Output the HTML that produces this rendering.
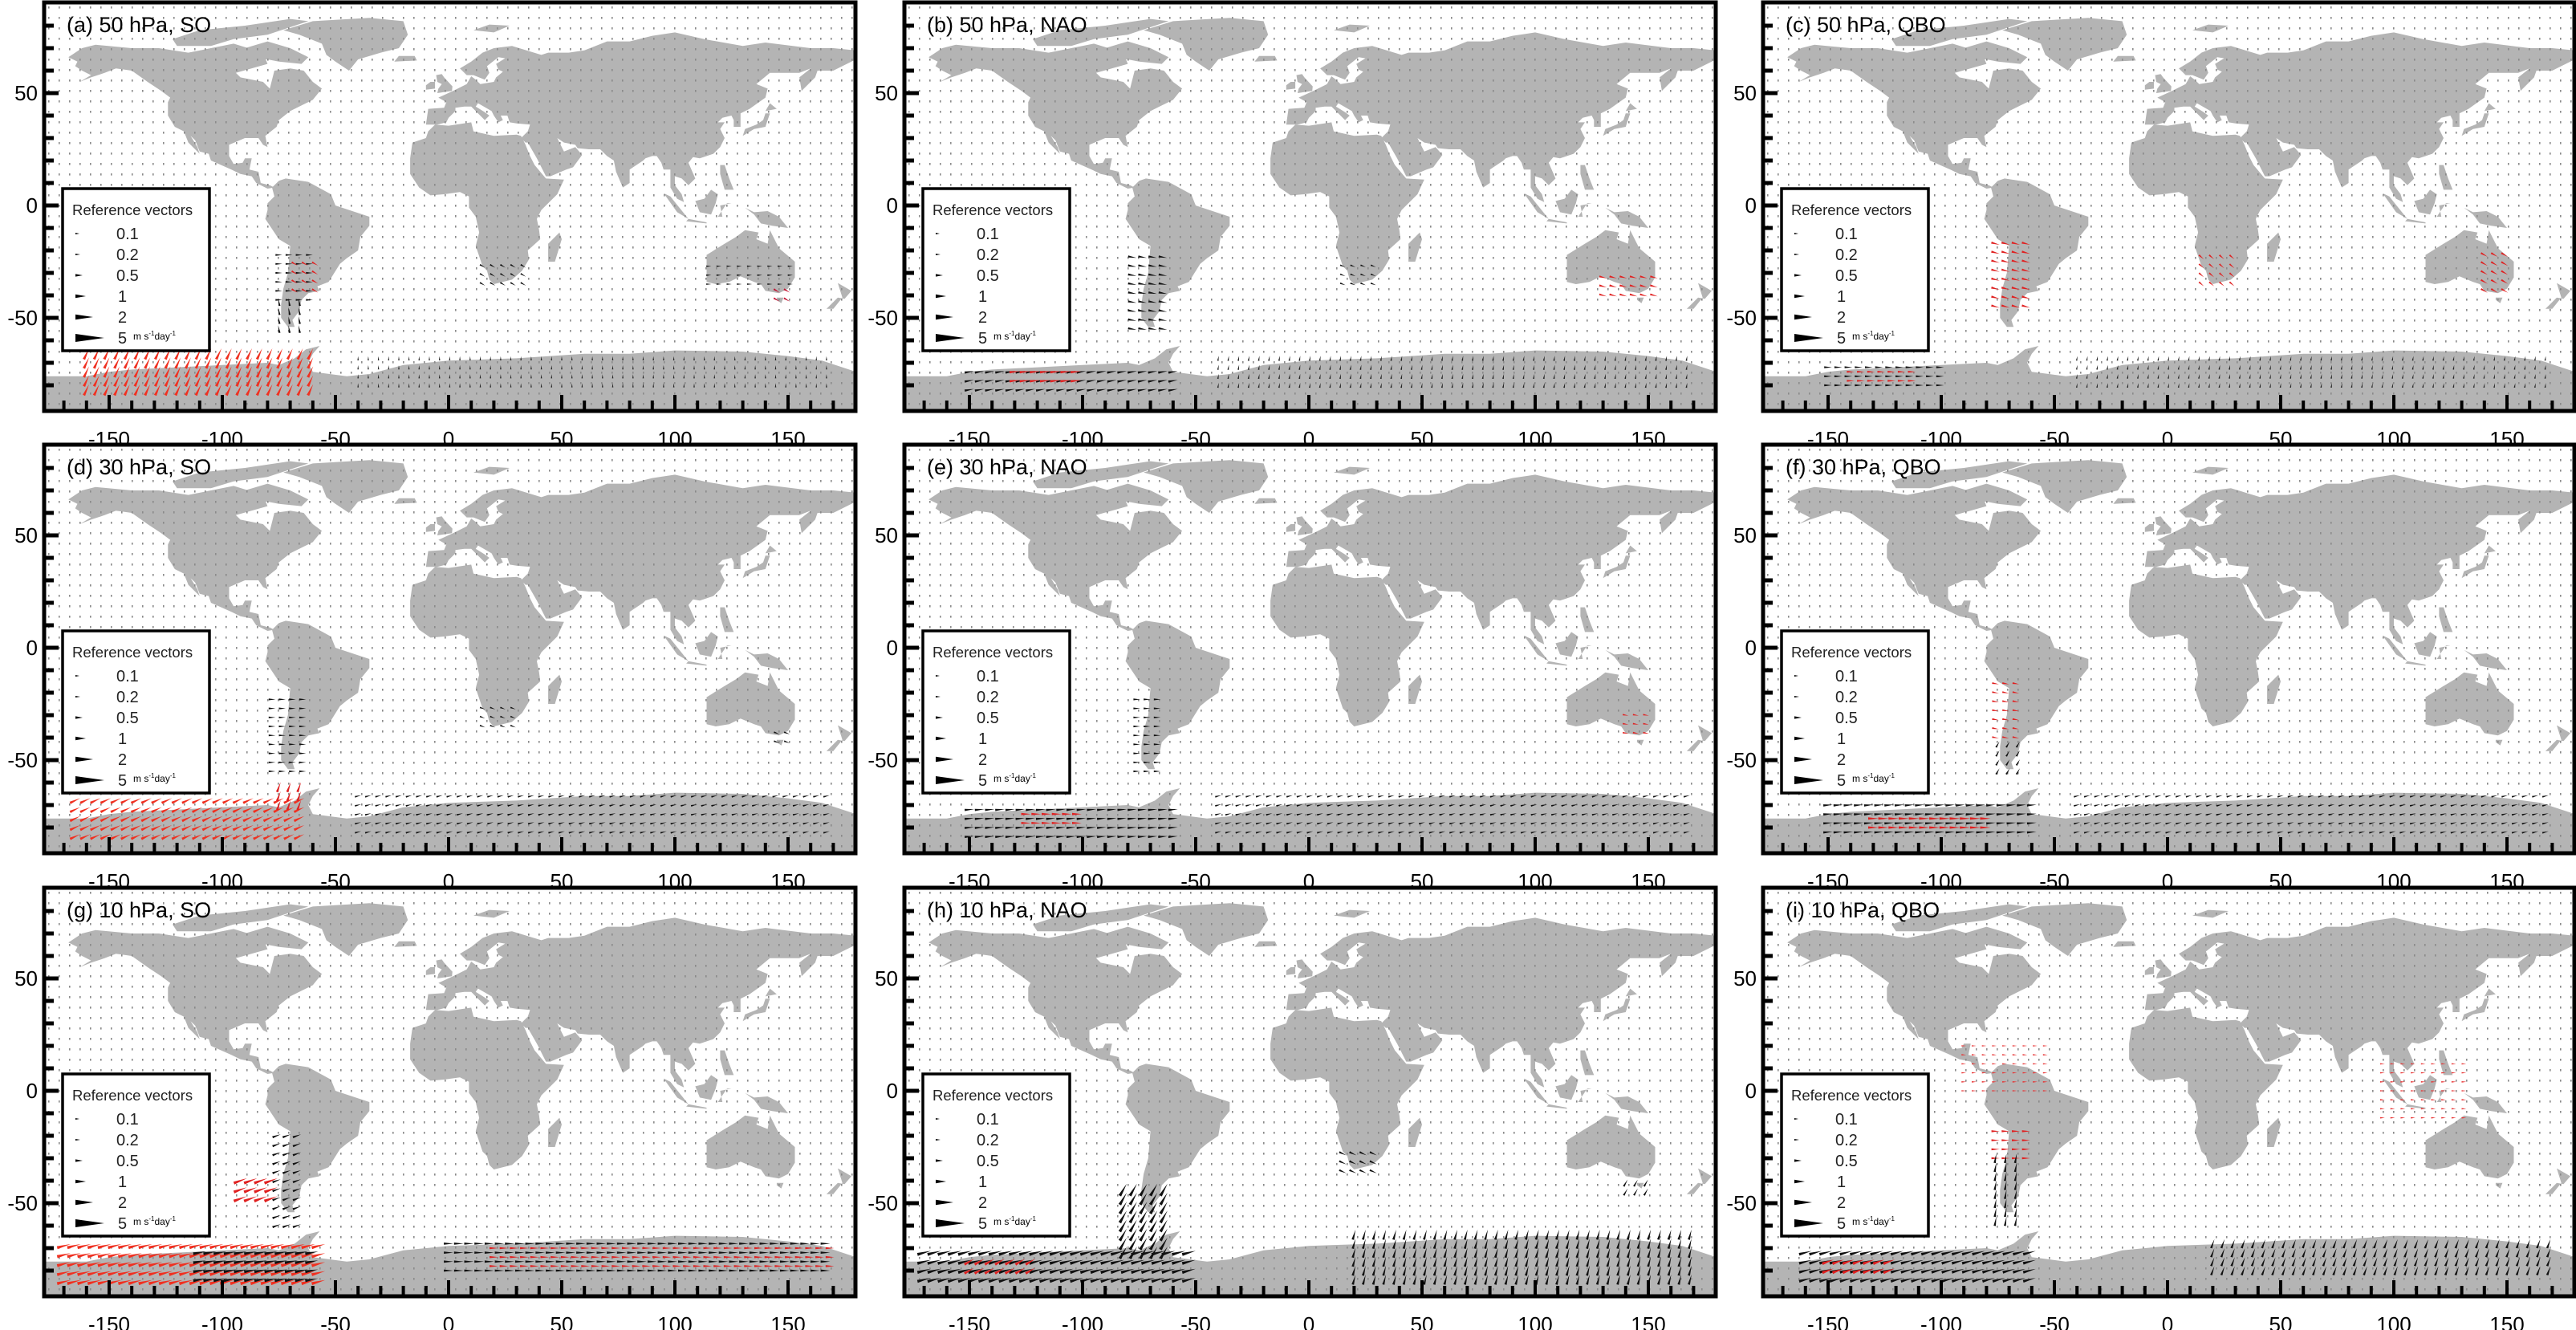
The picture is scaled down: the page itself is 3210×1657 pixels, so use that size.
<!DOCTYPE html>
<html><head><meta charset="utf-8"><style>
html,body{margin:0;padding:0;background:#fff;}
svg{display:block;font-family:"Liberation Sans",Arial,sans-serif;}
</style></head><body>
<svg id="fig" width="3210" height="1657" viewBox="0 0 3210 1657" xmlns="http://www.w3.org/2000/svg">
<defs>
<pattern id="dots" x="0" y="0" width="13" height="13" patternUnits="userSpaceOnUse">
<rect x="5" y="5" width="1.6" height="2.6" fill="#8a8a8a"/>
</pattern>
<clipPath id="pclip"><rect x="0" y="0" width="1011" height="509"/></clipPath>
</defs>
</svg>
<script>
// ---- data ----
const panelTitles = ["(a) 50 hPa, SO","(b) 50 hPa, NAO","(c) 50 hPa, QBO","(d) 30 hPa, SO","(e) 30 hPa, NAO","(f) 30 hPa, QBO","(g) 10 hPa, SO","(h) 10 hPa, NAO","(i) 10 hPa, QBO"];
const xTickLabels = [-150,-100,-50,0,50,100,150];
const yTickLabels = [-50,0,50];
const refValues = [0.1,0.2,0.5,1,2,5];
const refLabels = ["0.1","0.2","0.5","1","2","5"];
// vector clusters: [lon0, lon1, lat0, lat1, angleDeg, magnitude, color]
const vecA = [[-160,-60,-82,-66,65,2.2,"#f03020"],[-75,-60,-42,-20,0,1.0,"#111"],[-75,-62,-55,-42,100,1.2,"#111"],[-68,-55,-38,-25,-30,1.0,"#e02020"],[15,35,-35,-25,-30,0.8,"#111"],[115,153,-35,-25,0,0.6,"#111"],[145,152,-42,-36,-30,1,"#c01030"],[-40,170,-80,-66,90,0.4,"#222"]];
const vecB = [[-78,-62,-55,-20,-10,1.4,"#111"],[-150,-60,-82,-72,10,1.6,"#111"],[-130,-100,-78,-73,5,1.8,"#e02020"],[130,155,-40,-30,-15,1.2,"#e02020"],[-40,170,-80,-66,80,0.6,"#222"],[15,32,-35,-25,-20,0.7,"#111"]];
const vecC = [[-76,-62,-45,-15,-15,1.4,"#e02020"],[-150,-100,-80,-72,0,1.2,"#111"],[-140,-110,-78,-74,0,1.2,"#e02020"],[15,30,-35,-22,-40,0.9,"#e02020"],[140,153,-38,-22,-30,1.2,"#e02020"],[-40,170,-80,-66,80,0.5,"#222"]];
const vecD = [[-165,-62,-84,-68,25,2.0,"#f03020"],[-78,-62,-55,-20,0,1.0,"#111"],[-75,-62,-70,-60,70,1.8,"#e02020"],[15,32,-35,-25,-20,0.7,"#111"],[-40,170,-82,-66,15,0.9,"#111"],[145,152,-42,-35,-20,0.8,"#111"]];
const vecE = [[-150,-60,-84,-70,5,1.6,"#111"],[-125,-100,-78,-73,0,1.6,"#e02020"],[-76,-64,-55,-22,0,1.0,"#111"],[-40,170,-82,-66,15,0.9,"#111"],[140,153,-38,-30,-10,0.8,"#e02020"]];
const vecF = [[-150,-60,-82,-70,5,1.6,"#111"],[-130,-80,-80,-76,0,1.8,"#e02020"],[-76,-64,-40,-15,-10,1.0,"#e02020"],[-75,-65,-55,-40,60,1.0,"#111"],[-40,170,-82,-66,15,0.9,"#111"]];
const vecG = [[-170,-55,-85,-66,15,2.6,"#f03020"],[-110,-60,-84,-70,10,2.4,"#111"],[-76,-64,-60,-20,20,1.4,"#111"],[-92,-78,-48,-40,20,2.6,"#e02020"],[0,170,-80,-66,0,1.6,"#111"],[20,170,-78,-70,0,1.4,"#e02020"]];
const vecH = [[-82,-62,-72,-42,60,2.6,"#111"],[-170,-50,-84,-70,15,2.6,"#111"],[-150,-120,-80,-74,30,2.0,"#e02020"],[20,170,-84,-64,75,1.8,"#111"],[15,32,-36,-28,-25,1.2,"#111"],[140,152,-45,-38,60,1.2,"#111"]];
const vecI = [[-160,-60,-84,-70,15,2.4,"#111"],[-150,-120,-80,-74,20,2.2,"#e02020"],[-76,-62,-30,-15,0,1.3,"#e02020"],[-76,-64,-58,-30,80,1.6,"#111"],[-90,-50,0,20,0,0.5,"#e83030"],[95,135,-12,15,0,0.5,"#e83030"],[20,170,-80,-66,70,1.6,"#111"]];
const panelVectors = [vecA,vecB,vecC,vecD,vecE,vecF,vecG,vecH,vecI];
// land polygons (lon, lat)
const land = [
[[-168,66],[-162,70],[-156,71.5],[-140,70],[-128,70],[-115,68],[-95,72],[-82,68],[-80,63],[-94,59],[-92,57],[-82,55],[-79,52],[-77,60],[-70,61],[-64,60],[-60,55],[-56,52],[-60,47],[-66,44],[-70,42],[-75,38],[-76,35],[-81,31],[-80,26],[-82,27],[-84,30],[-90,30],[-97,27],[-97,22],[-95,18.5],[-91,19],[-90,21],[-87,21],[-88,16],[-84,15],[-83,10],[-79,9],[-77,8],[-80,7.5],[-85,10],[-87,13],[-92,14],[-96,16],[-105,20],[-106,23],[-110,24],[-112,29],[-114,31],[-111,26],[-110,23],[-115,28],[-117,33],[-121,35],[-124,40],[-124,46],[-123,48],[-127,51],[-133,55],[-140,60],[-147,61],[-152,59],[-158,57],[-163,55],[-158,58],[-162,60],[-165,62],[-164,64]],
[[-73,78],[-60,82],[-35,83.5],[-20,82],[-18,76],[-22,70],[-30,68],[-40,65],[-44,60],[-50,64],[-54,67],[-56,72],[-66,76]],
[[-122,74],[-110,78],[-90,80],[-70,83],[-62,82],[-80,76],[-95,74],[-105,71],[-120,71]],
[[-90,70],[-80,73],[-70,70],[-62,66],[-65,63],[-75,64],[-85,66]],
[[-78,8],[-75,11],[-72,12],[-62,10.5],[-52,5],[-50,0],[-44,-2],[-35,-5],[-35,-9],[-39,-14],[-40,-20],[-45,-23.5],[-48,-26],[-53,-34],[-58,-36],[-57,-38],[-62,-39],[-65,-42],[-66,-47],[-69,-51],[-68,-54],[-71,-54],[-74,-50],[-74,-44],[-73,-37],[-71,-30],[-70,-18],[-75,-15],[-77,-12],[-81,-6],[-80,-2],[-80,1],[-77,4]],
[[-17,21],[-16,28],[-10,30],[-9,33],[-6,36],[0,35.5],[10,37],[11,33],[20,31],[30,31.5],[32,31],[34,27],[36,22],[38,18],[43,12],[51,11.5],[48,5],[41,-2],[39,-6],[40,-11],[40.5,-15],[35,-20],[35.5,-24],[32.5,-29],[28,-33],[20,-35],[18,-33],[17,-29],[15,-27],[12,-18],[13.5,-12],[12,-5],[9,-1],[9,4],[5,6],[-2,5],[-8,4.5],[-13,8],[-17,14]],
[[44,-25],[47,-25],[50,-15],[49,-12],[44,-17]],
[[-10,36],[-9,43],[-2,43.5],[-1,46],[-4.5,48],[2,51],[8,54],[10,57.5],[12,56],[14,54],[20,55],[21,57],[24,59.5],[22,60.5],[21,63],[25,65.5],[22,66],[17,62],[18,59],[16,56],[11,58],[8,58],[5,61],[10,64],[15,68],[20,70],[28,71],[41,67],[44,68],[53,68],[60,69],[70,73],[80,73],[90,75.5],[100,77],[113,74],[130,71],[140,72.5],[160,70],[170,70],[180,69],[180,65],[178,64],[170,60],[163,60],[162,57],[156,51],[155,57],[160,61],[155,59],[142,59],[136,54],[141,52],[140,48],[133,43],[129,41],[129,35],[126,35],[126,38],[125,40],[121,39],[119,37],[122,37],[120,34],[122,30],[120,26],[117,23],[111,21],[108,21.5],[106,19],[109,12],[106,9],[105,10],[103,12],[100,13],[100,9],[103,5],[104,1.5],[101,3],[98,8],[98,16],[95,16],[94,19],[92,22],[90,22],[87,21],[86,20],[80,16],[80,10],[77,8],[74,15],[73,20],[70,22],[67,25],[62,25],[57,25.5],[56,27],[51,28],[48,30],[50,26],[51,24],[56,26],[59,22.5],[55,17],[52,16],[45,13],[43,13],[39,21],[35,28],[34,28],[32,30],[35,33],[36,36],[30,36.5],[27,37],[26,40],[23,40],[24,38],[22,37],[20,40],[19,42],[13,45.5],[12,44],[16,41.5],[18,40],[16,38],[12,42],[10,44],[7,44],[3,43.5],[3,42],[0,39],[-1,37],[-5,36]],
[[-5,50],[1.5,51],[1.7,53],[-2,57],[-3,58.5],[-5.5,58],[-5,55],[-3,54],[-4.5,52]],
[[-10,51.5],[-6,52],[-6,55],[-8,55],[-10,53.5]],
[[-24,64],[-14,64.5],[-15,66.5],[-22,66.5]],
[[11,78],[18,80.5],[27,80],[20,77]],
[[130,31],[135,34],[140,35],[141,38],[142,41],[140,41],[139,38],[136,36],[131,34]],
[[140,42],[145,43],[142,45.5]],
[[95,5.5],[98,4],[106,-6],[101,-3]],
[[109,2],[111,-3],[116,-4],[118,1],[119,5],[116,7],[113,3]],
[[105,-7],[114,-8],[114,-7.5],[106,-6]],
[[119,-5],[121,-2],[123,1],[125,1],[120,0],[121,-5]],
[[131,-1],[135,-3],[141,-2.5],[146,-5],[150,-10],[143,-9],[138,-8],[135,-4]],
[[120,18],[122,18],[124,12],[126,7],[122,7],[120,14]],
[[114,-22],[114,-34],[118,-35],[124,-34],[129,-31.5],[135,-34],[138,-35],[140,-38],[146,-39],[150,-37],[153,-32],[153,-25],[146,-19],[142,-11],[141,-17],[136,-15],[137,-12],[131,-11],[127,-14],[122,-17]],
[[145,-41],[148,-41],[147,-43.5],[145,-42]],
[[172,-34.5],[178,-38],[175,-41.5],[172,-41],[167,-46],[170,-46],[174,-41]],
[[-185,-76],[-160,-76],[-150,-74],[-140,-73],[-120,-72],[-100,-71],[-80,-70],[-75,-71],[-68,-68],[-63,-64],[-57,-62.5],[-60,-66],[-62,-70],[-60,-74],[-45,-76],[-35,-75],[-20,-71],[0,-69],[30,-68],[60,-66],[80,-66],[100,-64.5],[130,-65],[150,-67],[165,-69],[180,-74],[185,-76],[185,-95],[-185,-95]]
];

// ---- layout ----
const NS = "http://www.w3.org/2000/svg";
const svg = document.getElementById('fig');
const colX = [55,1127,2197];
const rowY = [3,554,1106];
const PW = 1011, PH = 509;
function xs(lon){ return 504 + 2.82*lon; }
function ys(lat){ return 253 - 2.8*lat; }
function mk(tag, attrs, parent){ const e=document.createElementNS(NS,tag); for(const k in attrs) e.setAttribute(k,attrs[k]); parent.appendChild(e); return e; }
function wedge(x,y,ang,L,w,color,parent){
  const a = -ang*Math.PI/180, c=Math.cos(a), s=Math.sin(a);
  const px=-s, py=c;
  const x0=x-c*L/2, y0=y-s*L/2, x1=x+c*L/2, y1=y+s*L/2;
  const pts=[[x0+px*w,y0+py*w],[x1,y1],[x0-px*w,y0-py*w]].map(p=>p[0].toFixed(1)+","+p[1].toFixed(1)).join(" ");
  return mk('polygon',{points:pts,fill:color},parent);
}
function vlen(m){ return 3 + 5.5*m; }
function vwid(m){ return 0.6 + 0.5*m; }

const landPath = land.map(poly=>"M"+poly.map(p=>xs(p[0]).toFixed(1)+","+ys(p[1]).toFixed(1)).join("L")+"Z").join(" ");

for(let i=0;i<9;i++){
  const g = mk('g',{transform:`translate(${colX[i%3]},${rowY[Math.floor(i/3)]})`},svg);
  
  
  const inner = mk('g',{'clip-path':'url(#pclip)'},g);
  const lp = mk('path',{d:landPath,fill:'#b4b4b4'},inner);
  
  
  const dg = mk('rect',{x:0,y:0,width:PW,height:PH,fill:'url(#dots)'},inner);
  
  
  const vg = mk('g',{},inner);
  
  
  for(const c of panelVectors[i]){
    const [lo0,lo1,la0,la1,ang,m,col]=c;
    for(let lo=lo0; lo<=lo1; lo+=4.5){
      for(let la=la0; la<=la1; la+=4){
        const v = wedge(xs(lo),ys(la),ang,vlen(m),vwid(m),col,vg);
        
        
      }
    }
  }
  for(let lat=-80; lat<=80; lat+=10){
    const major = lat%50===0;
    const t = mk('line',{x1:0,y1:ys(lat),x2:major?18:12,y2:ys(lat),stroke:'#000','stroke-width':5},g);
    
    
  }
  for(let lon=-170; lon<=170; lon+=10){
    const major = lon%50===0;
    const t = mk('line',{x1:xs(lon),y1:PH,x2:xs(lon),y2:PH-(major?20:13),stroke:'#000','stroke-width':4},g);
    
    
  }
  const fr = mk('rect',{x:0,y:0,width:PW,height:PH,fill:'none',stroke:'#000','stroke-width':5},g);
  
  
  for(const v of yTickLabels){
    const t = mk('text',{x:-8,y:ys(v)+9,'font-size':26,'text-anchor':'end',fill:'#000'},g);
    t.textContent = String(v);
    
    
  }
  for(const v of xTickLabels){
    const t = mk('text',{x:xs(v),y:PH+44,'font-size':26,'text-anchor':'middle',fill:'#000'},g);
    t.textContent = String(v);
    
    
  }
  const tt = mk('text',{x:28,y:37,'font-size':27,fill:'#000'},g);
  tt.textContent = panelTitles[i];
  
  
  const lg = mk('g',{},g);
  
  
  mk('rect',{x:23,y:232,width:183,height:202,fill:'#fff',stroke:'#000','stroke-width':3.5},lg);
  const lt = mk('text',{x:35,y:265,'font-size':18.5,fill:'#222'},lg);
  lt.textContent = 'Reference vectors';
  
  
  refValues.forEach((v,k)=>{
    const y = 288 + k*26;
    const L = k===5 ? 36 : [5,6,9,13,22][k];
    const w = [1,1,1.6,2.2,3.2,5][k];
    const a = wedge(39+L/2, y, 0, L, w, '#000', lg);
    
    
    const tx = mk('text',{x:k<3?90:92,y:y+7,'font-size':20,fill:'#222'},lg);
    tx.textContent = refLabels[k];
    
    
  });
  const un = mk('text',{x:111,y:420,'font-size':12,fill:'#000'},lg);
  un.innerHTML = 'm s<tspan dy="-5" font-size="8">-1</tspan><tspan dy="5">day</tspan><tspan dy="-5" font-size="8">-1</tspan>';
  
  
}
</script>
</body></html>
